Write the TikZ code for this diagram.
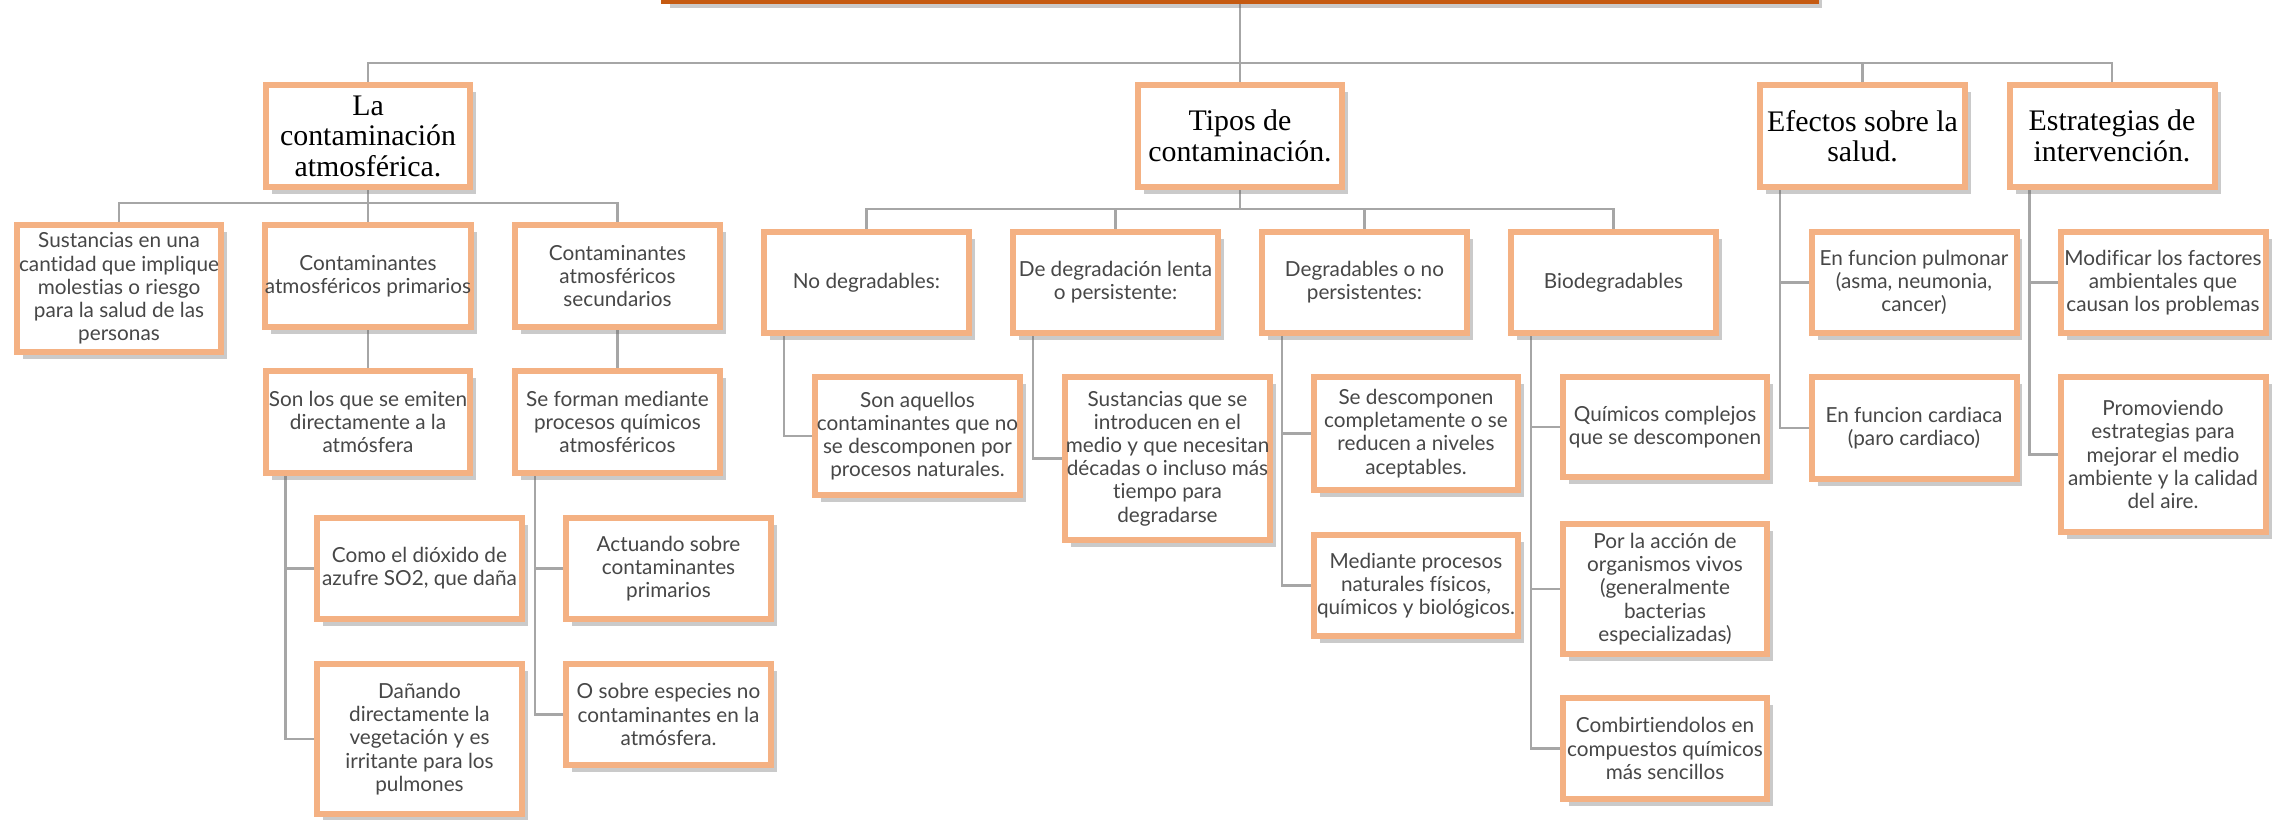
\documentclass[tikz,border=0pt]{standalone}
\usepackage{fontspec}
\setmainfont{Liberation Serif}
\newfontfamily\boxfont[Ligatures={NoCommon, NoRare}]{Lato}
\usepackage{tikz}
\usetikzlibrary{shadows}
\usetikzlibrary{backgrounds}
\tikzset{>=latex}
\definecolor{boxorange}{HTML}{F4B183}
\definecolor{rootorange}{HTML}{C55A11}
\definecolor{linkgray}{HTML}{A6A6A6}
\definecolor{textgray}{HTML}{474747}
\tikzset{
    box/.style={draw=boxorange, line width=0.12cm, fill=white, align=center,
        minimum width=4.1cm, minimum height=2.03cm, inner sep=0pt,
        font=\boxfont\fontsize{11.8}{13.2}\selectfont, text=textgray,
        drop shadow={shadow xshift=0.12cm, shadow yshift=-0.14cm, opacity=0.35, fill=black!60}},
    head/.style={box, font=\fontsize{17}{17.4}\selectfont, text=black},
    link/.style={draw=linkgray, line width=0.05cm},
}

\begin{document}
\begin{tikzpicture}[x=0.02cm, y=-0.02cm]
    \useasboundingbox (0, 0) rectangle (2276, 819);
    \node[box, draw=rootorange, minimum width=23.04cm, minimum height=2.96cm] (root) at (1240, -73) {};

    \node[head] (lacont) at (368, 136) {La\\contaminación\\atmosférica.};
    \node[head] (tipos) at (1240, 136) {Tipos de\\contaminación.};
    \node[head] (efectos) at (1862.5, 136) {Efectos sobre la\\salud.};
    \node[head] (estrat) at (2112, 136) {Estrategias de\\intervención.};

    \begin{scope}
        \node[box, minimum height=2.54cm] (sustan) at (119, 288.5) {Sustancias en una\\cantidad que implique\\molestias o riesgo\\para la salud de las\\personas};
        \node[box] (prim) at (368, 276) {Contaminantes\\atmosféricos primarios};
        \node[box] (secund) at (617.5, 276) {Contaminantes\\atmosféricos\\secundarios};
        \node[box] (sonlos) at (368, 422) {Son los que se emiten\\directamente a la\\atmósfera};
        \node[box] (seforman) at (617.5, 422) {Se forman mediante\\procesos químicos\\atmosféricos};
        \node[box] (como) at (419.5, 568.5) {Como el dióxido de\\azufre SO2, que daña};
        \node[box, minimum height=3cm] (danando) at (419.5, 739) {Dañando\\directamente la\\vegetación y es\\irritante para los\\pulmones};
        \node[box] (actuando) at (668.5, 568.5) {Actuando sobre\\contaminantes\\primarios};
        \node[box] (osobre) at (668.5, 714.5) {O sobre especies no\\contaminantes en la\\atmósfera.};
    \end{scope}

    \begin{scope}
        \node[box] (nodeg) at (866.5, 282.5) {No degradables:};
        \node[box] (lenta) at (1115.5, 282.5) {De degradación lenta\\o persistente:};
        \node[box] (degrad) at (1364.5, 282.5) {Degradables o no\\persistentes:};
        \node[box] (biodeg) at (1613.5, 282.5) {Biodegradables};
        \node[box, minimum height=2.36cm] (sonaq) at (917.5, 436) {Son aquellos\\contaminantes que no\\se descomponen por\\procesos naturales.};
        \node[box, minimum height=3.26cm] (sustque) at (1167.5, 458.5) {Sustancias que se\\introducen en el\\medio y que necesitan\\décadas o incluso más\\tiempo para\\degradarse};
        \node[box, minimum height=2.26cm] (sedesc) at (1416, 433.5) {Se descomponen\\completamente o se\\reducen a niveles\\aceptables.};
        \node[box] (mediante) at (1416, 585.5) {Mediante procesos\\naturales físicos,\\químicos y biológicos.};
        \node[box, minimum height=2cm] (quimicos) at (1665, 427) {Químicos complejos\\que se descomponen};
        \node[box, minimum height=2.6cm] (porla) at (1665, 589) {Por la acción de\\organismos vivos\\(generalmente\\bacterias\\especializadas)};
        \node[box] (combir) at (1665, 748.5) {Combirtiendolos en\\compuestos químicos\\más sencillos};
    \end{scope}

    \begin{scope}
        \node[box] (pulmonar) at (1914, 282.5) {En funcion pulmonar\\(asma, neumonia,\\cancer)};
        \node[box] (cardiaca) at (1914, 428) {En funcion cardiaca\\(paro cardiaco)};
        \node[box] (modif) at (2163, 282.5) {Modificar los factores\\ambientales que\\causan los problemas};
        \node[box, minimum height=3.1cm] (promov) at (2163, 454.5) {Promoviendo\\estrategias para\\mejorar el medio\\ambiente y la calidad\\del aire.};
    \end{scope}

    \begin{scope}[on background layer]
        \coordinate (bar0) at (0, 63);
        \coordinate (bar1) at (0, 203);
        \coordinate (bar2) at (0, 209);
        \foreach \n in {lacont, tipos, efectos, estrat}
            \draw[link] (root.south) -- (root.south |- bar0) -| (\n.north);
        \foreach \n in {sustan, prim, secund}
            \draw[link] (lacont.south) -- (lacont.south |- bar1) -| (\n.north);
        \foreach \n in {nodeg, lenta, degrad, biodeg}
            \draw[link] (tipos.south) -- (tipos.south |- bar2) -| (\n.north);
        \draw[link] (prim) -- (sonlos);
        \draw[link] (secund) -- (seforman);
        \foreach \a/\b in {sonlos/como, sonlos/danando, seforman/actuando, seforman/osobre,
                nodeg/sonaq, lenta/sustque, degrad/sedesc, degrad/mediante,
                biodeg/quimicos, biodeg/porla, biodeg/combir,
                efectos/pulmonar, efectos/cardiaca, estrat/modif, estrat/promov}
            \draw[link] (\a.south west) ++(23, 0) |- (\b.west);
    \end{scope}
\end{tikzpicture}
\end{document}
